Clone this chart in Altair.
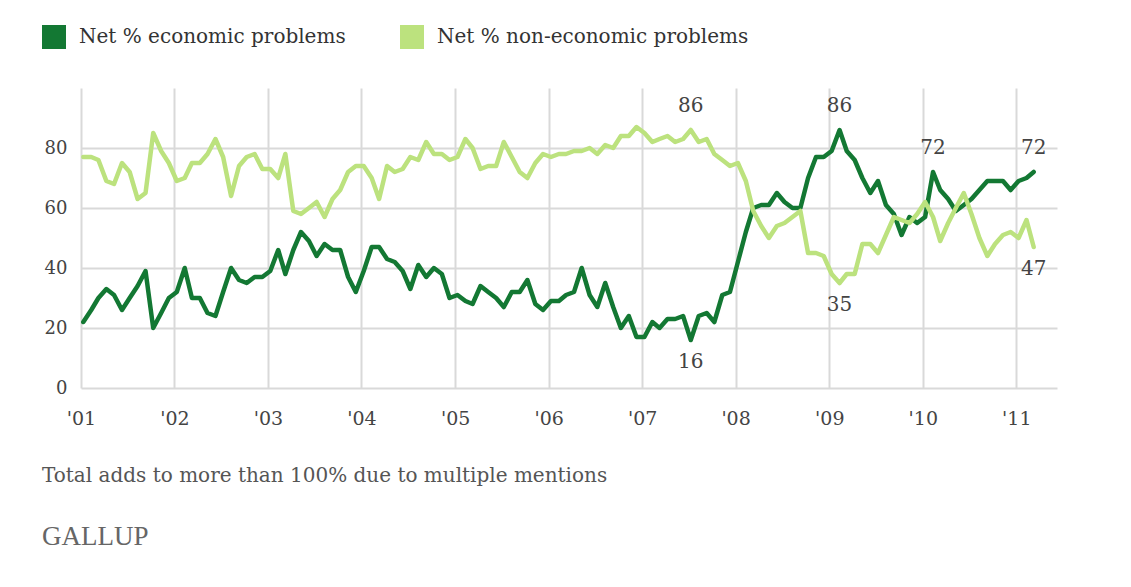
import altair as alt
import pandas as pd

# Monthly values, Jan 2001 .. Mar 2011
econ = [22, 26, 30, 33, 31, 26, 30, 34, 39, 20, 25, 30,
        32, 40, 30, 30, 25, 24, 32, 40, 36, 35, 37, 37,
        39, 46, 38, 46, 52, 49, 44, 48, 46, 46, 37, 32,
        39, 47, 47, 43, 42, 39, 33, 41, 37, 40, 38, 30,
        31, 29, 28, 34, 32, 30, 27, 32, 32, 36, 28, 26,
        29, 29, 31, 32, 40, 31, 27, 35, 27, 20, 24, 17,
        17, 22, 20, 23, 23, 24, 16, 24, 25, 22, 31, 32,
        42, 52, 60, 61, 61, 65, 62, 60, 60, 70, 77, 77,
        79, 86, 79, 76, 70, 65, 69, 61, 58, 51, 57, 55,
        57, 72, 66, 63, 59, 61, 63, 66, 69, 69, 69, 66,
        69, 70, 72]
nonecon = [77, 77, 76, 69, 68, 75, 72, 63, 65, 85, 79, 75,
           69, 70, 75, 75, 78, 83, 77, 64, 74, 77, 78, 73,
           73, 70, 78, 59, 58, 60, 62, 57, 63, 66, 72, 74,
           74, 70, 63, 74, 72, 73, 77, 76, 82, 78, 78, 76,
           77, 83, 80, 73, 74, 74, 82, 77, 72, 70, 75, 78,
           77, 78, 78, 79, 79, 80, 78, 81, 80, 84, 84, 87,
           85, 82, 83, 84, 82, 83, 86, 82, 83, 78, 76, 74,
           75, 69, 59, 54, 50, 54, 55, 57, 59, 45, 45, 44,
           38, 35, 38, 38, 48, 48, 45, 51, 57, 56, 55, 58,
           62, 57, 49, 55, 60, 65, 58, 50, 44, 48, 51, 52,
           50, 56, 47]

series_names = ["Net % economic problems", "Net % non-economic problems"]
series_colors = ["#137833", "#bce27e"]
start_year = 2001
poll_day = 10
tick_years = list(range(2001, 2012))
y_ticks = [0, 20, 40, 60, 80]
footnote = "Total adds to more than 100% due to multiple mentions"
source = "GALLUP"

# labelled points: (series index, month index)
labels_above = [(1, 78), (0, 97), (0, 109), (0, 122)]
labels_below = [(0, 78), (1, 97), (1, 122)]

dates = [f"{start_year + i // 12}-{i % 12 + 1:02d}-{poll_day:02d}" for i in range(len(econ))]
all_series = [econ, nonecon]

rows = []
for k, vals in enumerate(all_series):
    for d, v in zip(dates, vals):
        rows.append({"date": d, "series": series_names[k], "value": v})
df = pd.DataFrame(rows)


def label_frame(items):
    return pd.DataFrame([
        {"date": dates[i], "value": all_series[s][i], "label": str(all_series[s][i])}
        for s, i in items
    ])


FONT = "DejaVu Serif"

x_scale = alt.Scale(
    type="utc",
    domain=[alt.DateTime(year=2001, month=1, date=1, utc=True),
            alt.DateTime(year=2011, month=6, date=9, utc=True)],
)
y_scale = alt.Scale(domain=[0, 100], nice=False)

x_axis = alt.Axis(
    values=[alt.DateTime(year=y, month=1, date=1, utc=True) for y in tick_years],
    labelExpr="\"'\" + utcFormat(datum.value, '%y')",
    title=None, ticks=False, domain=False, grid=True, labelFlush=False,
    labelPadding=21, labelFont=FONT, labelFontSize=19, labelColor="#444",
    gridColor="#d9d9d9", gridWidth=2,
)
y_axis = alt.Axis(
    values=y_ticks, title=None, ticks=False, domain=False, grid=True,
    labelPadding=14, labelFont=FONT, labelFontSize=18, labelColor="#444",
    gridColor="#d9d9d9", gridWidth=2,
)

lines = alt.Chart(df).mark_line(strokeWidth=4.5, strokeJoin="round", strokeCap="round").encode(
    x=alt.X("date:T", scale=x_scale, axis=x_axis),
    y=alt.Y("value:Q", scale=y_scale, axis=y_axis),
    color=alt.Color(
        "series:N",
        scale=alt.Scale(domain=series_names, range=series_colors),
        legend=alt.Legend(
            orient="none", legendX=-39, legendY=-63, direction="horizontal",
            title=None, symbolType="square", symbolSize=144, symbolStrokeWidth=12,
            labelFont=FONT, labelFontSize=20, labelColor="#333", labelOffset=13,
            columnPadding=36, padding=0, labelLimit=500,
        ),
    ),
)

text_style = dict(font=FONT, fontSize=20, color="#444", baseline="middle", align="center")
above = alt.Chart(label_frame(labels_above)).mark_text(dy=-24, **text_style).encode(
    x=alt.X("date:T", scale=x_scale, axis=x_axis),
    y=alt.Y("value:Q", scale=y_scale, axis=y_axis),
    text="label:N",
)
below = alt.Chart(label_frame(labels_below)).mark_text(dy=22, **text_style).encode(
    x=alt.X("date:T", scale=x_scale, axis=x_axis),
    y=alt.Y("value:Q", scale=y_scale, axis=y_axis),
    text="label:N",
)

chart = alt.layer(lines, above, below).properties(
    width=976,
    height=300,
    background="white",
    autosize=alt.AutoSizeParams(type="none"),
    padding={"left": 73, "top": 80, "right": 66, "bottom": 191},
    title=alt.TitleParams(
        text=footnote, subtitle=source, orient="bottom", anchor="start", frame="bounds",
        font=FONT, fontSize=20, fontWeight="normal", color="#555", offset=38,
        subtitleFont="Liberation Serif", subtitleFontSize=27, subtitleColor="#666",
        subtitlePadding=38,
    ),
).configure_view(strokeWidth=0, stroke=None)

chart.save("out.html", embed_options={"renderer": "svg", "actions": False})
